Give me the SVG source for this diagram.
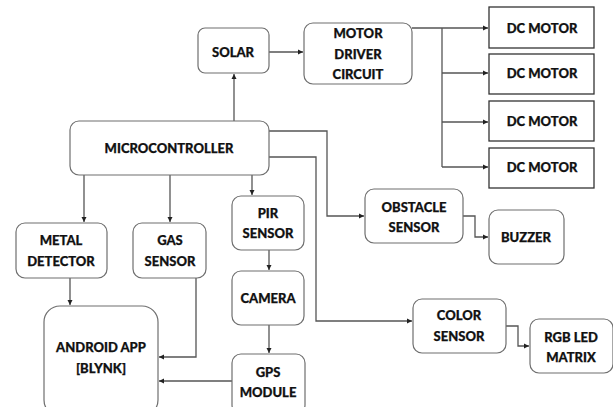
<svg xmlns="http://www.w3.org/2000/svg" width="613" height="407" viewBox="0 0 613 407">
<defs>
<marker id="ah" markerWidth="6" markerHeight="6" refX="5" refY="3" orient="auto" markerUnits="userSpaceOnUse">
<path d="M0,0.5 L5,3 L0,5.5 Z" fill="#222"/>
</marker>
<style>
.b{fill:#fff;stroke:#6f6f6f;stroke-width:1.2}
.s{fill:#fff;stroke:#333;stroke-width:1.3}
.t{font-family:Lato,"Liberation Sans",sans-serif;font-weight:900;font-size:13px;fill:#111;stroke:#111;stroke-width:0.25;text-anchor:middle;dominant-baseline:central}
.c{fill:none;stroke:#555;stroke-width:1.3;marker-end:url(#ah)}
.n{fill:none;stroke:#555;stroke-width:1.3}
</style>
</defs>
<rect width="613" height="407" fill="#fff"/>
<g id="connectors">
<path class="c" d="M234,121 V74"/>
<path class="c" d="M269,52 H303"/>
<path class="c" d="M412,28 H488"/>
<path class="n" d="M442,28 V167"/>
<path class="c" d="M442,73 H488"/>
<path class="c" d="M442,122 H488"/>
<path class="c" d="M442,167 H488"/>
<path class="c" d="M269,131 H327 V216 H364"/>
<path class="c" d="M269,157 H316 V321 H412"/>
<path class="c" d="M463,216 H475 V237 H488"/>
<path class="c" d="M506,326 H518 V346 H529"/>
<path class="c" d="M84,175 V222"/>
<path class="c" d="M170,175 V222"/>
<path class="c" d="M252,175 V195"/>
<path class="c" d="M269,250 V270"/>
<path class="c" d="M269,325 V353"/>
<path class="c" d="M70,278 V305"/>
<path class="c" d="M196,278 V357 H159"/>
<path class="c" d="M232,381 H159"/>
</g>
<g id="solar"><rect class="b" x="198" y="28" width="71" height="45" rx="7"/><text class="t" x="233" y="52">SOLAR</text></g>
<g id="motor-driver"><rect class="b" x="304" y="23" width="108" height="61" rx="9"/><text class="t" x="358" y="33">MOTOR</text><text class="t" x="358" y="54">DRIVER</text><text class="t" x="358" y="74">CIRCUIT</text></g>
<g id="dc1"><rect class="s" x="489" y="7" width="105" height="41"/><text class="t" x="542" y="28">DC MOTOR</text></g>
<g id="dc2"><rect class="s" x="489" y="54" width="105" height="40"/><text class="t" x="542" y="73">DC MOTOR</text></g>
<g id="dc3"><rect class="s" x="489" y="101" width="105" height="40"/><text class="t" x="542" y="121">DC MOTOR</text></g>
<g id="dc4"><rect class="s" x="489" y="148" width="105" height="40"/><text class="t" x="542" y="167">DC MOTOR</text></g>
<g id="microcontroller"><rect class="b" x="70" y="121" width="199" height="54" rx="9"/><text class="t" x="169" y="148">MICROCONTROLLER</text></g>
<g id="metal-detector"><rect class="b" x="16" y="223" width="91" height="55" rx="9"/><text class="t" x="61" y="240">METAL</text><text class="t" x="61" y="261">DETECTOR</text></g>
<g id="gas-sensor"><rect class="b" x="133" y="223" width="73" height="55" rx="9"/><text class="t" x="170" y="240">GAS</text><text class="t" x="170" y="261">SENSOR</text></g>
<g id="pir-sensor"><rect class="b" x="232" y="196" width="72" height="54" rx="9"/><text class="t" x="268" y="213">PIR</text><text class="t" x="268" y="233">SENSOR</text></g>
<g id="camera"><rect class="b" x="232" y="271" width="72" height="54" rx="9"/><text class="t" x="268" y="298">CAMERA</text></g>
<g id="gps-module"><rect class="b" x="232" y="354" width="73" height="60" rx="9"/><text class="t" x="268" y="372">GPS</text><text class="t" x="268" y="392">MODULE</text></g>
<g id="android-app"><rect class="b" x="44" y="306" width="114" height="110" rx="16"/><text class="t" x="101" y="347">ANDROID APP</text><text class="t" x="101" y="368">[BLYNK]</text></g>
<g id="obstacle-sensor"><rect class="b" x="365" y="189" width="98" height="54" rx="9"/><text class="t" x="414" y="207">OBSTACLE</text><text class="t" x="414" y="227">SENSOR</text></g>
<g id="buzzer"><rect class="b" x="489" y="210" width="75" height="54" rx="9"/><text class="t" x="526" y="237">BUZZER</text></g>
<g id="color-sensor"><rect class="b" x="413" y="299" width="93" height="54" rx="9"/><text class="t" x="459" y="315">COLOR</text><text class="t" x="459" y="336">SENSOR</text></g>
<g id="rgb-led-matrix"><rect class="b" x="530" y="319" width="83" height="54" rx="9"/><text class="t" x="571" y="337">RGB LED</text><text class="t" x="571" y="357">MATRIX</text></g>
</svg>
